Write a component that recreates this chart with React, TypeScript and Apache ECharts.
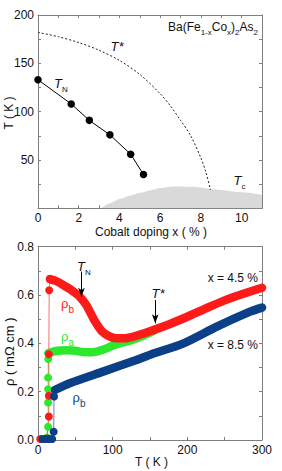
import React, { useEffect, useRef } from 'react';
import * as echarts from 'echarts';

const FONT = '"Liberation Sans", Arial, sans-serif';
const AXIS_COLOR = '#7f7f7f';

// ---- Top panel: phase diagram ----
const TN_X = [0, 1.63, 2.52, 3.53, 4.55, 5.18];
const TN_Y = [133, 108, 91, 76, 56, 35];
const TSTAR_X = [0, 1, 2, 3, 4, 5, 6, 6.5, 7, 7.5, 8, 8.25, 8.47];
const TSTAR_Y = [182, 177.5, 171.5, 163.5, 153, 138.5, 118.5, 106, 91, 75, 52, 37, 19];
const TC_X = [3.1, 3.5, 4, 4.5, 5, 5.5, 6, 6.5, 7, 7.5, 8, 8.5, 9, 10, 11];
const TC_Y = [0, 5, 9.5, 13, 16, 18.5, 21, 22.3, 22.5, 22.2, 21.5, 20, 19, 16.5, 13.8];

// ---- Bottom panel: resistivity ----
const RED_T = [16, 25, 35, 45, 55, 65, 75, 85, 95, 105, 115, 130, 150, 175, 200, 225, 250, 275, 300];
const RED_R = [0.666, 0.657, 0.639, 0.62, 0.596, 0.557, 0.498, 0.452, 0.43, 0.421, 0.421, 0.43, 0.45, 0.478, 0.51, 0.545, 0.578, 0.605, 0.63];
const RED_TR_T = [3, 8, 12, 14.5, 14.5, 14.5, 15, 16];
const RED_TR_R = [0.004, 0.004, 0.006, 0.097, 0.183, 0.355, 0.62, 0.666];

const GREEN_T = [14, 20, 30, 40, 50, 60, 70, 80, 90, 100, 110, 125, 140, 155];
const GREEN_R = [0.359, 0.366, 0.37, 0.371, 0.369, 0.364, 0.363, 0.367, 0.377, 0.391, 0.401, 0.413, 0.43, 0.452];
const GREEN_TR_T = [9, 12, 13.5, 13.5, 13.5, 13.5, 13.8, 14];
const GREEN_TR_R = [0.004, 0.01, 0.055, 0.155, 0.21, 0.258, 0.335, 0.359];

const BLUE_T = [22.5, 42.5, 87, 131.7, 152, 195, 239.5, 284, 300];
const BLUE_R = [0.207, 0.235, 0.283, 0.331, 0.355, 0.4, 0.469, 0.531, 0.548];
const BLUE_TR_T = [6, 11, 15, 19, 21, 21.5, 22.5];
const BLUE_TR_R = [0.004, 0.004, 0.004, 0.004, 0.034, 0.18, 0.207];

const TN_ARROW = [58.2, 0.697, 0.593];
const TSTAR_ARROW = [157, 0.579, 0.483];

const RED = '#ff1a1a';
const GREEN = '#2ee82e';
const BLUE = '#0b3f86';

const zip = (a: number[], b: number[]) => a.map((v, i) => [v, b[i]]);

type Part = { t: string; sub?: boolean };
function seq(
  parts: Part[],
  x: number,
  y: number,
  o: { size: number; sub: number; color: string; italic?: boolean; align?: 'left' | 'right'; subDy?: number }
) {
  const ctx = document.createElement('canvas').getContext('2d')!;
  const w = parts.map((p) => {
    ctx.font = `${o.italic && !p.sub ? 'italic ' : ''}${p.sub ? o.sub : o.size}px "Liberation Sans"`;
    return ctx.measureText(p.t).width;
  });
  const total = w.reduce((a, b) => a + b, 0);
  let cx = o.align === 'right' ? x - total : x;
  return parts.map((p, i) => {
    const el = {
      type: 'text',
      x: cx,
      y: p.sub ? y + (o.subDy ?? o.size * 0.38) : y,
      style: {
        text: p.t,
        fontSize: p.sub ? o.sub : o.size,
        fontFamily: FONT,
        fontStyle: o.italic && !p.sub ? 'italic' : 'normal',
        fill: o.color,
        align: 'left',
        verticalAlign: 'middle',
      },
    };
    cx += w[i];
    return el;
  });
}

function txt(text: string, x: number, y: number, size: number, opts: any = {}) {
  return {
    type: 'text',
    x,
    y,
    rotation: opts.rotation || 0,
    style: {
      text,
      fontSize: size,
      fontFamily: FONT,
      fontStyle: opts.italic ? 'italic' : 'normal',
      fill: opts.color || '#111',
      align: opts.align || 'center',
      verticalAlign: 'middle',
    },
  };
}

function axis(
  gridIndex: number,
  position: string,
  min: number,
  max: number,
  interval: number,
  fmt: ((v: number) => string) | null
) {
  return {
    type: 'value',
    gridIndex,
    position,
    min,
    max,
    interval,
    axisLine: { show: true, onZero: false, lineStyle: { color: AXIS_COLOR, width: 1 } },
    axisTick: { show: true, inside: true, length: 3, lineStyle: { color: AXIS_COLOR, width: 1 } },
    splitLine: { show: false },
    axisLabel: fmt
      ? {
          show: true,
          formatter: fmt,
          color: '#111',
          fontSize: 12,
          fontFamily: FONT,
          margin: 4,
        }
      : { show: false },
  };
}

export default function App() {
  const ref = useRef<HTMLDivElement>(null);
  useEffect(() => {
    if (!ref.current) return;
    const chart = echarts.init(ref.current, null, { renderer: 'svg' });
    const topX = (v: number) => (Math.round(v) % 2 === 0 ? String(Math.round(v)) : '');
    const topY = (v: number) => (Math.round(v) % 50 === 0 && v > 0 ? String(Math.round(v)) : '');
    const botX = (v: number) => (Math.round(v) % 100 === 0 ? String(Math.round(v)) : '');
    const botY = (v: number) => (Math.round(v * 10) % 2 === 0 ? v.toFixed(1) : '');

    const graphic: any[] = [
      ...seq(
        [
          { t: 'Ba(Fe' },
          { t: '1-x', sub: true },
          { t: 'Co' },
          { t: 'x', sub: true },
          { t: ')' },
          { t: '2', sub: true },
          { t: 'As' },
          { t: '2', sub: true },
        ],
        258,
        27,
        { size: 12, sub: 8, color: '#111', align: 'right', subDy: 5 }
      ),
      txt('T*', 117, 46, 13, { italic: true }),
      ...seq([{ t: 'T' }, { t: 'N', sub: true }], 54, 83, { size: 13, sub: 8, color: '#111', italic: true, subDy: 6 }),
      ...seq([{ t: 'T' }, { t: 'c', sub: true }], 233.5, 180, { size: 13, sub: 8, color: '#111', italic: true, subDy: 6 }),
      txt('T ( K )', 9, 113, 12, { rotation: Math.PI / 2 }),
      txt('Cobalt doping x ( % )', 151, 232, 12),
      ...seq([{ t: 'T' }, { t: 'N', sub: true }], 77, 266, { size: 13, sub: 8, color: '#111', italic: true, subDy: 6 }),
      txt('T*', 158, 293, 13, { italic: true }),
      ...seq([{ t: 'ρ' }, { t: 'b', sub: true }], 61, 303, { size: 13, sub: 10, color: RED, subDy: 6 }),
      ...seq([{ t: 'ρ' }, { t: 'a', sub: true }], 61, 336, { size: 13, sub: 10, color: GREEN, subDy: 6 }),
      ...seq([{ t: 'ρ' }, { t: 'b', sub: true }], 72.5, 397, { size: 13, sub: 10, color: BLUE, subDy: 6 }),
      txt('x = 4.5 %', 258, 277.7, 12, { align: 'right' }),
      txt('x = 8.5 %', 258, 345, 12, { align: 'right' }),
      txt('ρ ( mΩ cm )', 9, 351.7, 13, { rotation: Math.PI / 2 }),
      txt('T ( K )', 151.5, 462, 12),
    ];

    const thinLine = (color: string, t: number[], r: number[]) => ({
      type: 'line',
      xAxisIndex: 2,
      yAxisIndex: 2,
      data: zip(t, r),
      symbol: 'circle',
      symbolSize: 8,
      showSymbol: true,
      itemStyle: { color },
      lineStyle: { color, width: 0.8, opacity: 0.8 },
    });
    const band = (color: string, t: number[], r: number[], extra: any = {}) => ({
      type: 'line',
      xAxisIndex: 2,
      yAxisIndex: 2,
      data: zip(t, r),
      smooth: 0.25,
      symbol: 'none',
      lineStyle: { color, width: 8.5, cap: 'round', join: 'round' },
      ...extra,
    });

    chart.setOption({
      animation: false,
      grid: [
        { left: 38, top: 15, width: 224, height: 193.3 },
        { left: 38, top: 246.7, width: 224, height: 193.3 },
      ],
      xAxis: [
        axis(0, 'bottom', 0, 11, 1, topX),
        axis(0, 'top', 0, 11, 1, null),
        axis(1, 'bottom', 0, 300, 50, botX),
        axis(1, 'top', 0, 300, 50, null),
      ],
      yAxis: [
        axis(0, 'left', 0, 200, 25, topY),
        axis(0, 'right', 0, 200, 25, null),
        axis(1, 'left', 0, 0.8, 0.1, botY),
        axis(1, 'right', 0, 0.8, 0.1, null),
      ],
      series: [
        {
          type: 'line',
          xAxisIndex: 0,
          yAxisIndex: 0,
          data: zip(TC_X, TC_Y),
          smooth: 0.25,
          smoothMonotone: 'x',
          symbol: 'none',
          lineStyle: { width: 0 },
          areaStyle: { color: '#d9d9d9', opacity: 1 },
        },
        {
          type: 'line',
          xAxisIndex: 0,
          yAxisIndex: 0,
          data: zip(TSTAR_X, TSTAR_Y),
          smooth: 0.3,
          symbol: 'none',
          lineStyle: { color: '#222', width: 1, type: [2, 2] },
        },
        {
          type: 'line',
          xAxisIndex: 0,
          yAxisIndex: 0,
          data: zip(TN_X, TN_Y),
          symbol: 'circle',
          symbolSize: 7.5,
          itemStyle: { color: '#000' },
          lineStyle: { color: '#000', width: 1 },
        },
        thinLine(GREEN, GREEN_TR_T, GREEN_TR_R),
        band(GREEN, GREEN_T, GREEN_R),
        thinLine(RED, RED_TR_T, RED_TR_R),
        band(RED, RED_T, RED_R, {
          markLine: {
            silent: true,
            symbol: ['none', 'arrow'],
            symbolSize: [5, 9],
            label: { show: false },
            lineStyle: { color: '#000', width: 1, type: 'solid' },
            data: [
              [{ coord: [TN_ARROW[0], TN_ARROW[1]] }, { coord: [TN_ARROW[0], TN_ARROW[2]] }],
              [{ coord: [TSTAR_ARROW[0], TSTAR_ARROW[1]] }, { coord: [TSTAR_ARROW[0], TSTAR_ARROW[2]] }],
            ],
          },
        }),
        thinLine(BLUE, BLUE_TR_T, BLUE_TR_R),
        band(BLUE, BLUE_T, BLUE_R),
      ],
      graphic,
    });
    return () => chart.dispose();
  }, []);
  return (
    <div
      ref={ref}
      style={{ position: 'fixed', left: 0, top: 0, width: 282, height: 471, background: '#fff' }}
    />
  );
}
